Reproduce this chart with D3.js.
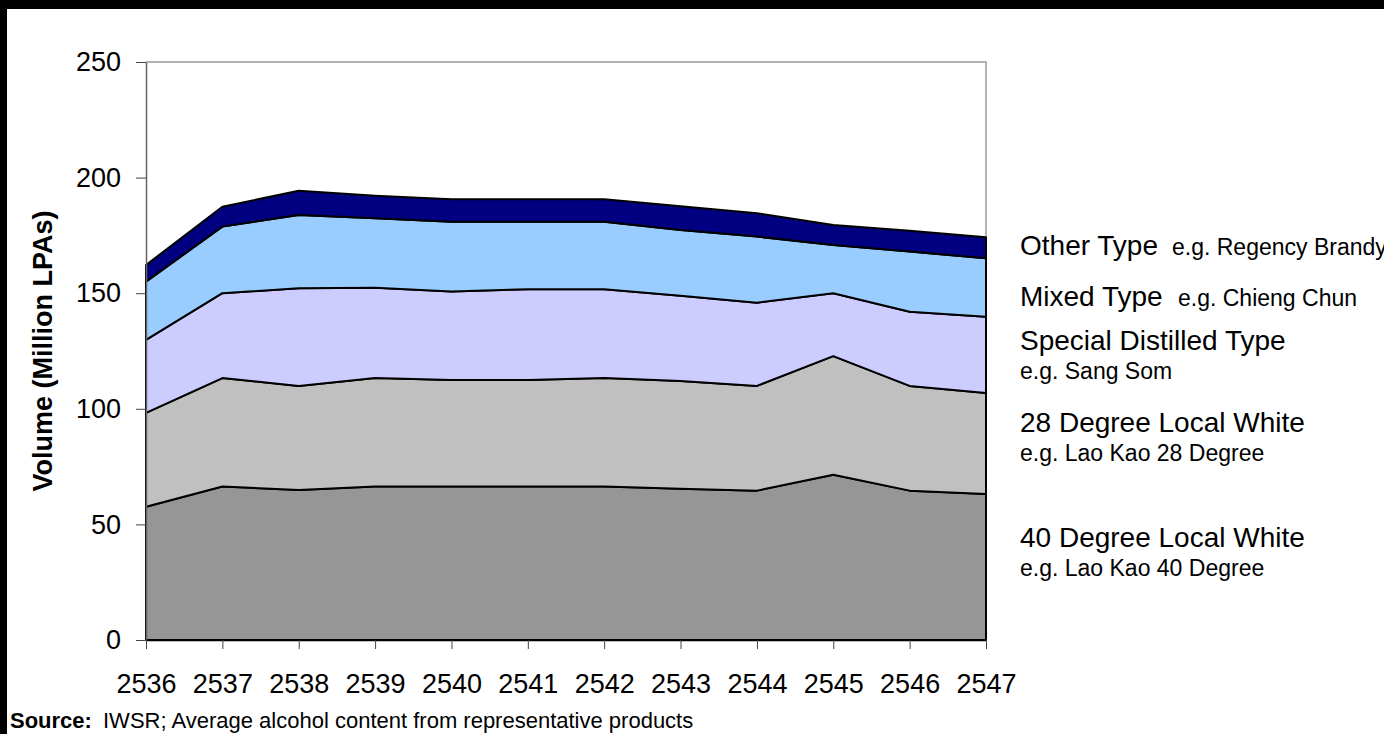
<!DOCTYPE html>
<html>
<head>
<meta charset="utf-8">
<script src="https://cdn.jsdelivr.net/npm/d3@7"></script>
<style>
  html, body { margin: 0; padding: 0; background: #000; overflow: hidden; }
  text { font-family: 'Liberation Sans', Arial, sans-serif; fill: #000; }
</style>
</head>
<body>
<div id="chart"></div>
<script>
const years = ['2536', '2537', '2538', '2539', '2540', '2541', '2542', '2543', '2544', '2545', '2546', '2547']

// million LPAs
const local40 = [57.6, 66.4, 64.9, 66.4, 66.4, 66.4, 66.4, 65.4, 64.6, 71.5, 64.6, 63.2]
const local28 = [40.6, 46.9, 45.0, 46.9, 46.1, 46.1, 46.9, 46.6, 45.3, 51.3, 45.3, 43.6]
const specialDistilled = [31.6, 36.7, 42.2, 39.1, 38.2, 39.2, 38.4, 36.9, 36.0, 27.2, 32.1, 33.0]
const mixedType = [25.2, 28.8, 31.7, 30.0, 30.2, 29.2, 29.2, 28.4, 28.6, 20.8, 26.0, 25.3]
const otherType = [7.2, 8.6, 10.5, 9.8, 9.7, 9.7, 9.7, 10.3, 10.1, 8.7, 9.0, 9.1]

const yTicks = [0, 50, 100, 150, 200, 250]

const keys = ['local40', 'local28', 'special', 'mixed', 'other']
const colors = {
  local40: '#969696',
  local28: '#C0C0C0',
  special: '#CCCCFF',
  mixed: '#99CCFF',
  other: '#000080'
}

const labels = [
  { main: '40 Degree Local White', sub: 'e.g. Lao Kao 40 Degree', y: 547, subBelow: true },
  { main: '28 Degree Local White', sub: 'e.g. Lao Kao 28 Degree', y: 432, subBelow: true },
  { main: 'Special Distilled Type', sub: 'e.g. Sang Som', y: 350, subBelow: true },
  { main: 'Mixed Type', sub: 'e.g. Chieng Chun', y: 306, subBelow: false, subX: 1178 },
  { main: 'Other Type', sub: 'e.g. Regency Brandy', y: 255, subBelow: false, subX: 1172 }
]

const W = 1384
const H = 734
const plot = { left: 146, right: 986, top: 62, bottom: 640 }

const rows = years.map((yr, i) => ({
  year: yr,
  local40: local40[i],
  local28: local28[i],
  special: specialDistilled[i],
  mixed: mixedType[i],
  other: otherType[i]
}))

const svg = d3.select('#chart').append('svg')
  .attr('width', W)
  .attr('height', H)

// white page inside the black frame
svg.append('rect')
  .attr('x', 7).attr('y', 9)
  .attr('width', W - 7).attr('height', H - 9)
  .attr('fill', '#fff')

const x = d3.scalePoint()
  .domain(years)
  .range([plot.left, plot.right])

const y = d3.scaleLinear()
  .domain([0, 250])
  .range([plot.bottom, plot.top])

// plot border (top and right)
svg.append('path')
  .attr('d', `M${plot.left},${plot.top}H${plot.right}V${plot.bottom}`)
  .attr('fill', 'none')
  .attr('stroke', '#999')
  .attr('stroke-width', 1.5)

const series = d3.stack().keys(keys)(rows)

const area = d3.area()
  .x(d => x(d.data.year))
  .y0(d => y(d[0]))
  .y1(d => y(d[1]))

svg.append('g')
  .selectAll('path')
  .data(series)
  .join('path')
  .attr('d', area)
  .attr('fill', d => colors[d.key])
  .attr('stroke', '#000')
  .attr('stroke-width', 2)
  .attr('stroke-linejoin', 'round')

const yAxis = svg.append('g')
  .attr('transform', `translate(${plot.left},0)`)
  .call(d3.axisLeft(y).tickValues(yTicks).tickSize(10).tickSizeOuter(0).tickPadding(15))
yAxis.select('.domain').attr('stroke', '#666').attr('stroke-width', 1.5)
yAxis.selectAll('.tick line').attr('stroke', '#444')
yAxis.selectAll('text')
  .style('font-size', '27px')
  .attr('fill', '#000')

const xAxis = svg.append('g')
  .attr('transform', `translate(0,${plot.bottom})`)
  .call(d3.axisBottom(x).tickSize(9).tickSizeOuter(0).tickPadding(25))
xAxis.select('.domain').attr('stroke', '#000').attr('stroke-width', 1.5)
xAxis.selectAll('.tick line').attr('stroke', '#444')
xAxis.selectAll('text')
  .style('font-size', '27px')
  .attr('fill', '#000')

// y axis title
svg.append('text')
  .attr('transform', `translate(52,${(plot.top + plot.bottom) / 2}) rotate(-90)`)
  .attr('text-anchor', 'middle')
  .style('font-size', '27px')
  .style('font-weight', 'bold')
  .text('Volume (Million LPAs)')

// series labels on the right
const lab = svg.append('g')
labels.forEach(l => {
  lab.append('text')
    .attr('x', 1020).attr('y', l.y)
    .style('font-size', '28px')
    .text(l.main)
  lab.append('text')
    .attr('x', l.subBelow ? 1020 : l.subX)
    .attr('y', l.subBelow ? l.y + 29 : l.y)
    .style('font-size', '23px')
    .text(l.sub)
})

// source note
svg.append('text')
  .attr('x', 10).attr('y', 728)
  .style('font-size', '22px')
  .style('font-weight', 'bold')
  .text('Source:')
svg.append('text')
  .attr('x', 103).attr('y', 728)
  .style('font-size', '22px')
  .text('IWSR; Average alcohol content from representative products')
</script>
</body>
</html>
